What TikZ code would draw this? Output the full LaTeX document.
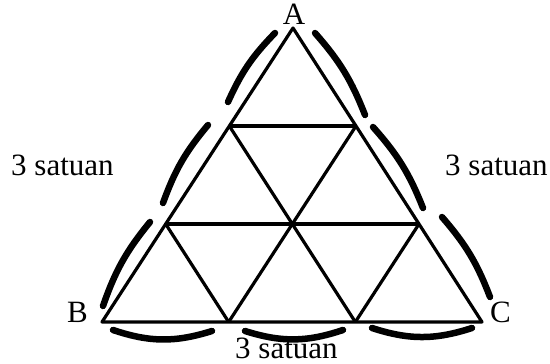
\documentclass[tikz,border=0pt]{standalone}
\usepackage{fontspec}
\setmainfont{Liberation Serif}
\usetikzlibrary{calc}

\begin{document}
\begin{tikzpicture}[x=1pt,y=-1pt,
  garis/.style={line width=3.2, line join=round},
  busur/.style={line width=6.5, line cap=round},
  teks/.style={inner sep=0, font=\fontsize{31}{36}\selectfont}]
\useasboundingbox (0,0) rectangle (550,364);

\coordinate (A) at (293,28);
\coordinate (B) at (102,322);
\coordinate (C) at (482,322);

% segitiga besar dan garis pembagi
\draw[garis] (A) -- (B) -- (C) -- cycle;
\foreach \t in {1/3,2/3}{
  \draw[garis] ($(A)!\t!(B)$) -- ($(A)!\t!(C)$);
  \draw[garis] ($(A)!\t!(C)$) -- ($(B)!\t!(C)$);
  \draw[garis] ($(A)!\t!(B)$) -- ($(C)!\t!(B)$);
}

% busur sisi kiri
\draw[busur] (275,33) to[bend right=10] (228,102);
\draw[busur] (208,125) to[bend right=10] (163,203);
\draw[busur] (150,222) to[bend right=10] (103,306);
% busur sisi kanan
\draw[busur] (315,33) to[bend left=10] (365,115);
\draw[busur] (373,127) to[bend left=10] (423,208);
\draw[busur] (442,217) to[bend left=10] (490,297);
% busur alas
\draw[busur] (113,330) to[bend right=18] (212,331);
\draw[busur] (245,331) to[bend right=18] (343,330);
\draw[busur] (372,328) to[bend right=18] (472,328);

\node[teks, anchor=base] (lA) at (294,24) {A};
\node[teks, anchor=base west] (lB) at (67,322) {B};
\node[teks, anchor=base west] (lC) at (490,322) {C};
\node[teks, anchor=base west] (kiri) at (11,175) {3 satuan};
\node[teks, anchor=base west] (kanan) at (445,175) {3 satuan};
\node[teks, anchor=base west] (bawah) at (235,358) {3 satuan};
\end{tikzpicture}
\end{document}
